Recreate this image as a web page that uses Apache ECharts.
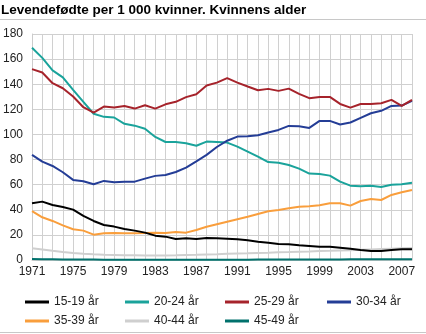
<!DOCTYPE html>
<html>
<head>
<meta charset="utf-8">
<script src="https://cdn.jsdelivr.net/npm/echarts@6/dist/echarts.min.js"></script>
<style>
html,body{margin:0;padding:0;background:#fff;}
#chart{width:426px;height:334px;}
</style>
</head>
<body>
<div id="chart"></div>
<script>
const years = [];
for (let y = 1971; y <= 2008; y++) years.push(String(y));

const yTicks = [0, 20, 40, 60, 80, 100, 120, 140, 160, 180];

const names = ['15-19 år', '20-24 år', '25-29 år', '30-34 år', '35-39 år', '40-44 år', '45-49 år'];

const age15_19 = [45.2, 46.5, 43.8, 42.2, 40.1, 35.1, 31.1, 27.9, 26.6, 24.7,
  23.4, 21.8, 19.4, 18.6, 16.7, 17.3, 16.7, 17.5, 17.3, 17.0,
  16.5, 15.7, 14.6, 13.8, 12.8, 12.5, 11.7, 11.2, 10.6, 10.6,
  9.8, 9.0, 8.0, 7.2, 7.2, 8.0, 8.5, 8.5];

const age20_24 = [169, 161, 151, 145.5, 135.5, 126, 116.5, 114, 113.5, 108.5,
  107, 104.5, 98, 94, 94, 93, 91, 94.3, 94, 93.5,
  90.3, 86.3, 82.3, 78, 77.5, 75.7, 72.8, 68.8, 68.5, 67.2,
  62.4, 59.2, 58.7, 59.2, 58.2, 60, 60.3, 61.6];

const age25_29 = [152, 149.3, 140.8, 136.8, 130.2, 121.7, 117.4, 122.2, 121.4, 122.7,
  120.6, 123.3, 120.6, 124, 126, 129.7, 132, 139, 141.3, 144.8,
  141.3, 138.2, 135.2, 136.3, 134.7, 136.5, 132.3, 128.9, 129.9, 129.9,
  124.3, 121.4, 124.3, 124.3, 124.9, 127.5, 122.7, 127.5];

const age30_34 = [83.7, 78.3, 74.9, 69.9, 63.8, 62.7, 60.3, 63, 61.9, 62.4,
  62.4, 64.8, 67, 67.7, 70.1, 73.6, 78.6, 83.7, 90, 95,
  98.3, 98.6, 99.4, 101.5, 103.6, 106.8, 106.5, 105.2, 110.8, 110.8,
  107.9, 109.5, 113.2, 116.9, 118.8, 122.7, 123, 126.7];

const age35_39 = [39, 34, 31.1, 27.6, 24.5, 23.4, 20.2, 21.3, 21.5, 21.3,
  21.3, 21.5, 21.8, 21.5, 22.3, 21.8, 23.9, 26.5, 28.5, 30.5,
  32.5, 34.5, 36.7, 38.8, 39.9, 41.2, 42.5, 42.8, 43.6, 45.2,
  45.2, 43.3, 47, 48.6, 47.8, 51.8, 54, 55.8];

const age40_44 = [9.3, 8.3, 7.3, 6.4, 5.6, 5.0, 4.5, 4.2, 4.0, 3.8,
  3.7, 3.6, 3.6, 3.6, 3.7, 3.9, 4.1, 4.4, 4.6, 4.9,
  5.1, 5.3, 5.6, 5.8, 6.1, 6.3, 6.6, 6.8, 7.1, 7.3,
  7.6, 7.8, 8.1, 8.4, 8.7, 9.0, 9.3, 9.6];

const age45_49 = [0.7, 0.6, 0.5, 0.4, 0.4, 0.3, 0.3, 0.2, 0.2, 0.2,
  0.2, 0.2, 0.2, 0.2, 0.2, 0.2, 0.2, 0.2, 0.2, 0.2,
  0.2, 0.2, 0.3, 0.3, 0.3, 0.3, 0.3, 0.4, 0.4, 0.4,
  0.4, 0.5, 0.5, 0.5, 0.5, 0.6, 0.6, 0.6];

const colors = ['#000000', '#1aa39b', '#a6232b', '#243d96', '#f99e3c', '#cfcfcf', '#00716c'];
const seriesData = [age15_19, age20_24, age25_29, age30_34, age35_39, age40_44, age45_49];
const drawOrder = [5, 6, 4, 0, 1, 3, 2];

const chart = echarts.init(document.getElementById('chart'), null, {renderer: 'canvas'});

const legendPos = [
  {left: 25, top: 296}, {left: 125, top: 296}, {left: 225, top: 296}, {left: 327, top: 296},
  {left: 25, top: 315}, {left: 125, top: 315}, {left: 225, top: 315}
];

const legends = names.map((n, i) => ({
  data: [n],
  left: legendPos[i].left,
  top: legendPos[i].top,
  padding: 0,
  itemWidth: 24,
  itemHeight: 3,
  icon: 'rect',
  selectedMode: false,
  textStyle: {fontFamily: 'Liberation Sans, Arial, sans-serif', fontSize: 12, color: '#222'}
}));

const series = drawOrder.map(i => ({
  name: names[i],
  type: 'line',
  data: seriesData[i],
  symbol: 'none',
  smooth: false,
  lineStyle: {width: 2, color: colors[i]},
  itemStyle: {color: colors[i]},
  emphasis: {disabled: true}
}));

chart.setOption({
  animation: false,
  title: {
    text: 'Levendefødte per 1 000 kvinner. Kvinnens alder',
    left: 1,
    top: 3,
    padding: 0,
    textStyle: {fontFamily: 'Liberation Sans, Arial, sans-serif', fontSize: 13.5, fontWeight: 'bold', color: '#000'}
  },
  graphic: [
    {type: 'line', shape: {x1: 0, y1: 19.5, x2: 426, y2: 19.5}, style: {stroke: '#c8c8c8', lineWidth: 1}},
    {type: 'line', shape: {x1: 0, y1: 332.5, x2: 426, y2: 332.5}, style: {stroke: '#c8c8c8', lineWidth: 1}}
  ],
  legend: legends,
  grid: {left: 30, right: 14, top: 34, bottom: 74, containLabel: false},
  xAxis: {
    type: 'category',
    data: years,
    boundaryGap: false,
    axisLine: {show: true, lineStyle: {color: '#cccccc'}},
    axisTick: {show: false},
    axisLabel: {
      interval: 3,
      margin: 6,
      fontFamily: 'Liberation Sans, Arial, sans-serif',
      fontSize: 12,
      color: '#222'
    },
    splitLine: {show: true, interval: 0, lineStyle: {color: '#d0d0d0', width: 1}}
  },
  yAxis: {
    type: 'value',
    min: yTicks[0],
    max: yTicks[yTicks.length - 1],
    interval: 20,
    axisLine: {show: true, lineStyle: {color: '#cccccc'}},
    axisTick: {show: false},
    axisLabel: {
      margin: 9,
      fontFamily: 'Liberation Sans, Arial, sans-serif',
      fontSize: 12,
      color: '#222'
    },
    splitLine: {show: true, lineStyle: {color: '#d0d0d0', width: 1}}
  },
  series: series
});
</script>
</body>
</html>
